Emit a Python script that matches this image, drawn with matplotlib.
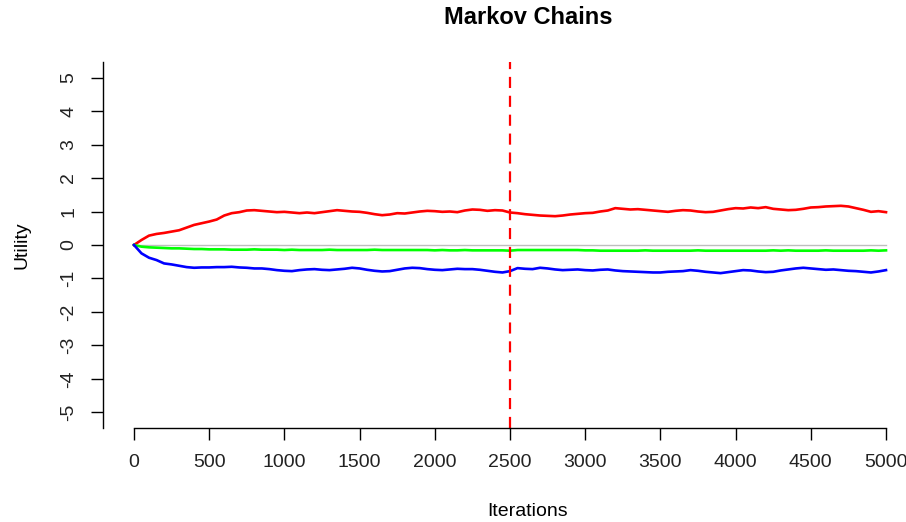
import numpy as np
import matplotlib
matplotlib.use("Agg")
import matplotlib.pyplot as plt

plt.rcParams['font.family'] = ['Liberation Sans', 'DejaVu Sans']

# iteration grid (every 50 iterations)
iters = list(range(0, 5001, 50))

chain_red = [
    0.00, 0.15, 0.28, 0.33, 0.36, 0.40, 0.44, 0.52, 0.60, 0.65,
    0.70, 0.76, 0.88, 0.95, 0.98, 1.03, 1.04, 1.02, 1.00, 0.98,
    0.99, 0.97, 0.95, 0.97, 0.95, 0.98, 1.01, 1.04, 1.02, 1.00,
    0.99, 0.96, 0.92, 0.89, 0.91, 0.95, 0.94, 0.97, 1.00, 1.02,
    1.01, 0.99, 1.00, 0.98, 1.03, 1.06, 1.05, 1.02, 1.04, 1.03,
    0.97, 0.95, 0.92, 0.90, 0.88, 0.87, 0.86, 0.88, 0.91, 0.93,
    0.95, 0.96, 1.00, 1.03, 1.10, 1.08, 1.06, 1.07, 1.05, 1.03,
    1.01, 0.99, 1.02, 1.04, 1.03, 1.00, 0.98, 0.99, 1.03, 1.07,
    1.10, 1.09, 1.12, 1.10, 1.13, 1.08, 1.06, 1.04, 1.05, 1.08,
    1.12, 1.13, 1.15, 1.16, 1.17, 1.15, 1.10, 1.05, 0.99, 1.01,
    0.98,
]

chain_green = [
    0.00, -0.05, -0.07, -0.08, -0.09, -0.10, -0.10, -0.11, -0.12, -0.12,
    -0.13, -0.13, -0.13, -0.14, -0.14, -0.14, -0.13, -0.14, -0.14, -0.14,
    -0.15, -0.14, -0.15, -0.15, -0.15, -0.15, -0.14, -0.15, -0.15, -0.15,
    -0.15, -0.15, -0.14, -0.15, -0.15, -0.15, -0.15, -0.15, -0.15, -0.15,
    -0.16, -0.15, -0.16, -0.16, -0.15, -0.16, -0.16, -0.16, -0.16, -0.16,
    -0.17, -0.15, -0.15, -0.15, -0.15, -0.15, -0.15, -0.15, -0.15, -0.15,
    -0.16, -0.16, -0.17, -0.17, -0.17, -0.17, -0.17, -0.17, -0.16, -0.17,
    -0.17, -0.17, -0.17, -0.17, -0.17, -0.16, -0.17, -0.17, -0.17, -0.17,
    -0.17, -0.17, -0.17, -0.17, -0.17, -0.16, -0.17, -0.16, -0.17, -0.17,
    -0.17, -0.17, -0.16, -0.17, -0.17, -0.17, -0.17, -0.17, -0.16, -0.17,
    -0.16,
]

chain_blue = [
    0.00, -0.25, -0.38, -0.45, -0.55, -0.58, -0.62, -0.66, -0.68, -0.67,
    -0.67, -0.66, -0.66, -0.65, -0.67, -0.68, -0.70, -0.70, -0.72, -0.75,
    -0.77, -0.78, -0.75, -0.73, -0.72, -0.74, -0.75, -0.73, -0.71, -0.68,
    -0.70, -0.74, -0.77, -0.79, -0.78, -0.74, -0.70, -0.68, -0.69, -0.72,
    -0.74, -0.75, -0.73, -0.71, -0.72, -0.72, -0.74, -0.77, -0.80, -0.82,
    -0.78, -0.69, -0.71, -0.72, -0.68, -0.70, -0.73, -0.75, -0.74, -0.73,
    -0.75, -0.76, -0.74, -0.73, -0.76, -0.78, -0.79, -0.80, -0.81, -0.82,
    -0.82, -0.80, -0.79, -0.78, -0.75, -0.77, -0.80, -0.82, -0.84, -0.81,
    -0.78, -0.75, -0.76, -0.79, -0.81, -0.80, -0.76, -0.73, -0.70, -0.68,
    -0.70, -0.72, -0.74, -0.73, -0.75, -0.77, -0.78, -0.80, -0.82, -0.79,
    -0.75,
]

burn_in = 2500
x_ticks = list(range(0, 5001, 500))
y_ticks = list(range(-5, 6))

W, H = 906, 522
fig = plt.figure(figsize=(W / 100, H / 100), dpi=100)
# axes placed in pixel terms to mimic the R plot region
left, right, top, bottom = 103, 900, 62, 428
ax = fig.add_axes([left / W, (H - bottom) / H, (right - left) / W, (bottom - top) / H])

ax.set_xlim(-206, 5093)
ax.set_ylim(-5.463, 5.463)

ax.plot([0, 5000], [0, 0], color='#bebebe', lw=1.0)
ax.plot(iters, chain_red, color='red', lw=1.9)
ax.plot(iters, chain_green, color='#00ff00', lw=1.9)
ax.plot(iters, chain_blue, color='blue', lw=1.9)
ax.axvline(burn_in, color='red', lw=1.6, dashes=(5, 3.5))

# R style axes
for s in ['top', 'right']:
    ax.spines[s].set_visible(False)
ax.spines['bottom'].set_bounds(0, 5000)
ax.spines['left'].set_linewidth(1.0)
ax.spines['bottom'].set_linewidth(1.0)

ax.set_xticks(x_ticks)
ax.set_yticks(y_ticks)
ax.set_yticklabels([str(v) for v in y_ticks], rotation=90, va='center')
ax.tick_params(axis='both', direction='out', length=8.5, width=1.0,
               labelsize=14, pad=10, colors='black')
for lab in ax.get_xticklabels() + ax.get_yticklabels():
    lab.set_color('#222222')

fig.text(528 / W, 1 - 18 / H, 'Markov Chains', ha='center', va='center',
         fontsize=17, fontweight='bold')
fig.text(528 / W, 1 - 511 / H, 'Iterations', ha='center', va='center', fontsize=14)
fig.text(22 / W, 1 - 245 / H, 'Utility', ha='center', va='center',
         fontsize=14, rotation=90)

fig.savefig('out.png', dpi=100)
